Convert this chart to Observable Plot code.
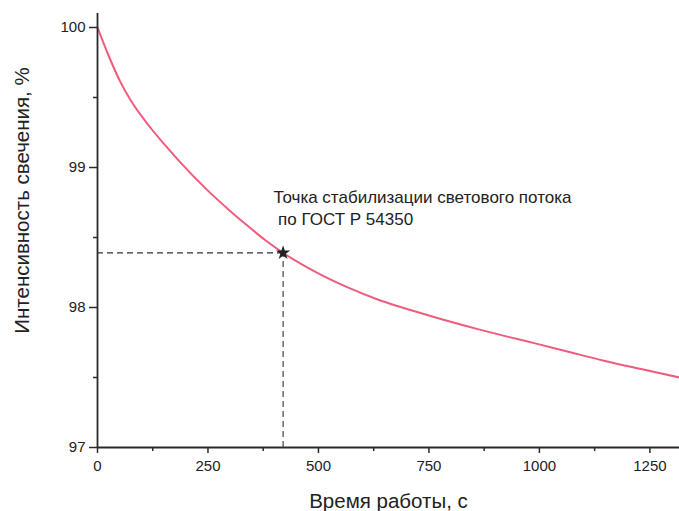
<!DOCTYPE html>
<html>
<head>
<meta charset="utf-8">
<script src="https://cdn.jsdelivr.net/npm/d3@7"></script>
<script src="https://cdn.jsdelivr.net/npm/@observablehq/plot@0.6"></script>
<style>
  html, body { margin: 0; padding: 0; background: #fff; }
  svg { display: block; }
</style>
</head>
<body>
<div id="chart"></div>
<script>
const time =      [0,    25,    52,    75,    116,   150,   188,    248,   300,   339,    380,   420,   490,   565,    640,   716,    791,    867,   930,   995,   1070,  1146,  1230,  1317];
const intensity = [100,  99.80, 99.61, 99.48, 99.30, 99.17, 99.035, 98.84, 98.69, 98.585, 98.48, 98.39, 98.26, 98.145, 98.05, 97.975, 97.905, 97.84, 97.79, 97.74, 97.68, 97.62, 97.56, 97.50];
const xMajorTicks = [0, 250, 500, 750, 1000, 1250];
const xMinorTicks = [125, 375, 625, 875, 1125];
const yMajorTicks = [97, 98, 99, 100];
const yMinorTicks = [97.5, 98.5, 99.5];
const stabPoint = [{t: 420, v: 98.39}];
const noteLines = ["Точка стабилизации светового потока", " по ГОСТ Р 54350"];
const noteT = 398, noteV = [98.743, 98.586];
const xLabel = "Время работы, с";
const yLabel = "Интенсивность свечения, %";

const data = time.map((t, i) => ({t, v: intensity[i]}));
const notes = noteLines.map((s, i) => ({s, t: noteT, v: noteV[i]}));
const font = "'Liberation Sans', Arial, sans-serif";
const axisColor = "#2a2a2a";

const chart = Plot.plot({
  width: 679,
  height: 511,
  marginLeft: 97,
  marginRight: 0,
  marginTop: 13,
  marginBottom: 64,
  style: {fontFamily: font, background: "#fff"},
  x: {domain: [0, 1317]},
  y: {domain: [97, 100.1]},
  marks: [
    // dashed guide lines
    Plot.ruleY(stabPoint, {y: "v", x1: 0, x2: "t", stroke: "#333", strokeWidth: 1.1, strokeDasharray: "6,4"}),
    Plot.ruleX(stabPoint, {x: "t", y1: 97, y2: "v", stroke: "#333", strokeWidth: 1.1, strokeDasharray: "6,4"}),
    // curve
    Plot.line(data, {x: "t", y: "v", stroke: "#ef5c7c", strokeWidth: 2, curve: "monotone-x"}),
    // axes
    Plot.axisY({ticks: yMajorTicks, tickSize: 8, tickPadding: 4, fontSize: 15, stroke: axisColor, strokeWidth: 1.5, color: "#222", label: null, tickFormat: d => String(d)}),
    Plot.axisY({ticks: yMinorTicks, tickSize: 4, stroke: axisColor, strokeWidth: 1.5, text: null, label: null}),
    Plot.axisX({ticks: xMajorTicks, tickSize: 6, tickPadding: 7, fontSize: 15, stroke: axisColor, strokeWidth: 1.5, color: "#222", label: null, tickFormat: d => String(d)}),
    Plot.axisX({ticks: xMinorTicks, tickSize: 4, stroke: axisColor, strokeWidth: 1.5, text: null, label: null}),
    Plot.ruleX([0], {stroke: axisColor, strokeWidth: 1.8}),
    Plot.ruleY([97], {stroke: axisColor, strokeWidth: 1.8}),
    // stabilization point
    Plot.dot(stabPoint, {x: "t", y: "v", symbol: "star", r: 4.5, fill: "#222", stroke: "none"}),
    // annotation
    Plot.text(notes, {x: "t", y: "v", text: "s", textAnchor: "start", lineAnchor: "bottom", fontSize: 17, fill: "#222"}),
    // axis labels
    Plot.text([xLabel], {frameAnchor: "bottom", textAnchor: "middle", lineAnchor: "middle", dy: 54, fontSize: 20.5, fill: "#222"}),
    Plot.text([yLabel], {frameAnchor: "left", textAnchor: "middle", lineAnchor: "middle", dx: -75, dy: -30, rotate: -90, fontSize: 20.5, fill: "#222"})
  ]
});
document.getElementById("chart").appendChild(chart);
</script>
</body>
</html>
